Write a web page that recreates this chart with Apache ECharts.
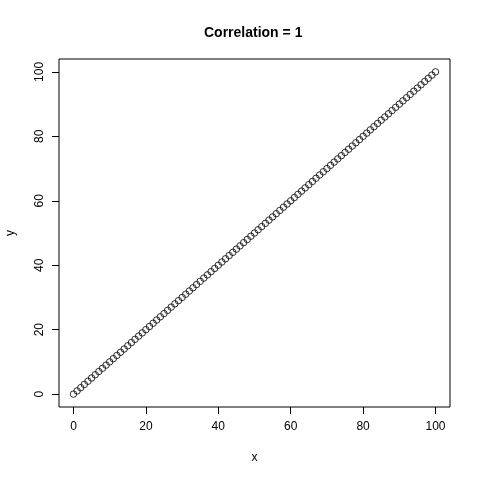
<!DOCTYPE html>
<html>
<head>
<meta charset="utf-8">
<script src="https://cdn.jsdelivr.net/npm/echarts@6/dist/echarts.min.js"></script>
<style>html,body{margin:0;padding:0;background:#fff}#c{width:480px;height:480px}</style>
</head>
<body>
<div id="c"></div>
<script>
var xValues = [0,1,2,3,4,5,6,7,8,9,10,11,12,13,14,15,16,17,18,19,20,21,22,23,24,25,26,27,28,29,30,31,32,33,34,35,36,37,38,39,40,41,42,43,44,45,46,47,48,49,50,51,52,53,54,55,56,57,58,59,60,61,62,63,64,65,66,67,68,69,70,71,72,73,74,75,76,77,78,79,80,81,82,83,84,85,86,87,88,89,90,91,92,93,94,95,96,97,98,99,100];
var yValues = [0,1,2,3,4,5,6,7,8,9,10,11,12,13,14,15,16,17,18,19,20,21,22,23,24,25,26,27,28,29,30,31,32,33,34,35,36,37,38,39,40,41,42,43,44,45,46,47,48,49,50,51,52,53,54,55,56,57,58,59,60,61,62,63,64,65,66,67,68,69,70,71,72,73,74,75,76,77,78,79,80,81,82,83,84,85,86,87,88,89,90,91,92,93,94,95,96,97,98,99,100];
var xTicks = [0,20,40,60,80,100];
var yTicks = [0,20,40,60,80,100];
var titleText = 'Correlation = 1';

var points = xValues.map(function(v,i){return [v, yValues[i]];});
var font = 'Liberation Sans, Arial, sans-serif';
var chart = echarts.init(document.getElementById('c'), null, {renderer:'canvas'});
chart.setOption({
  animation:false,
  backgroundColor:'#fff',
  title:{text:titleText, left:199, top:21,
    textStyle:{fontFamily:font, fontSize:14, fontWeight:'bold', color:'#000'}},
  grid:{left:59, right:30, top:59, bottom:73, containLabel:false, outerBoundsMode:'none',
    show:true, borderColor:'#000', borderWidth:1, backgroundColor:'transparent'},
  xAxis:{type:'value', min:-4, max:104, name:'x', nameLocation:'middle', nameGap:45,
    nameTextStyle:{fontFamily:font, fontSize:12, color:'#000'},
    axisLine:{show:false, onZero:false},
    axisTick:{show:true, length:7, customValues:xTicks, lineStyle:{color:'#000'}},
    axisLabel:{customValues:xTicks, margin:14, fontFamily:font, fontSize:12, color:'#000'},
    splitLine:{show:false}},
  yAxis:{type:'value', min:-4, max:104, name:'y', nameLocation:'middle', nameGap:42,
    nameTextStyle:{fontFamily:font, fontSize:12, color:'#000'},
    axisLine:{show:false, onZero:false},
    axisTick:{show:true, length:7, customValues:yTicks, lineStyle:{color:'#000'}},
    axisLabel:{customValues:yTicks, rotate:90, margin:13, fontFamily:font, fontSize:12, color:'#000'},
    splitLine:{show:false}},
  series:[{type:'scatter', data:points, symbol:'circle', symbolSize:6.5,
    itemStyle:{color:'rgba(0,0,0,0)', borderColor:'#000', borderWidth:1}}]
});
</script>
</body>
</html>
